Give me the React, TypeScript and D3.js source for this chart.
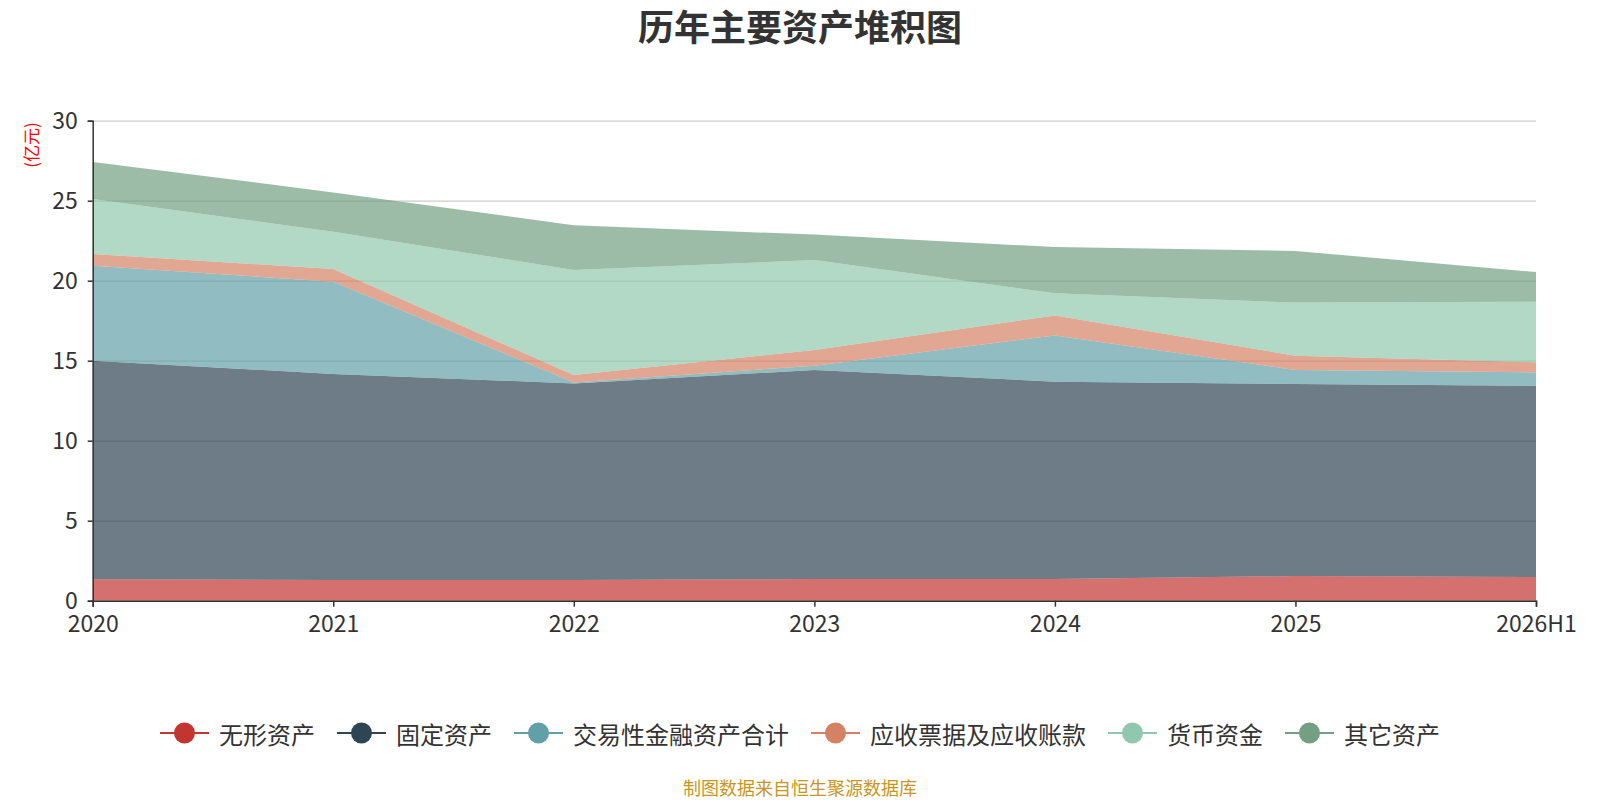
/**
 * 历年主要资产堆积图 — stacked area chart, D3 rendered.
 */
import { useEffect, useRef } from 'react';
import * as d3 from 'd3';

const W = 1600;
const H = 800;

const categories = ['2020', '2021', '2022', '2023', '2024', '2025', '2026H1'];

// 亿元
const intangible  = [1.34, 1.30, 1.29, 1.35, 1.35, 1.54, 1.48];
const fixedAssets = [13.66, 12.87, 12.29, 13.07, 12.34, 12.00, 11.95];
const trading     = [5.94, 5.77, 0.05, 0.27, 2.89, 0.88, 0.84];
const receivables = [0.73, 0.79, 0.47, 0.98, 1.25, 0.89, 0.63];
const cash        = [3.43, 2.33, 6.57, 5.62, 1.38, 3.32, 3.79];
const other       = [2.32, 2.46, 2.79, 1.59, 2.89, 3.23, 1.85];

const yTicks = [0, 5, 10, 15, 20, 25, 30];

const seriesNames = ['无形资产', '固定资产', '交易性金融资产合计', '应收票据及应收账款', '货币资金', '其它资产'];
const seriesValues = [intangible, fixedAssets, trading, receivables, cash, other];
const colors = ['#c23531', '#2f4554', '#61a0a8', '#d48265', '#91c7ae', '#749f83'];

const FONT = '"Noto Sans CJK SC", "Noto Sans", sans-serif';

type Row = { cat: string } & Record<string, number | string>;

export default function App() {
  const svgRef = useRef<SVGSVGElement>(null);

  useEffect(() => {
    if (!svgRef.current) return;
    const svg = d3.select(svgRef.current);
    svg.selectAll('*').remove();

    const M = { top: 120.7, right: 64, bottom: 199.3, left: 92.7 };
    const iW = W - M.left - M.right;
    const iH = H - M.top - M.bottom;

    svg.append('rect').attr('width', W).attr('height', H).attr('fill', '#fff');

    // ── Title ──────────────────────────────────────────────────────────────
    svg.append('text')
      .attr('x', W / 2).attr('y', 25)
      .attr('text-anchor', 'middle').attr('dominant-baseline', 'central')
      .attr('font-family', FONT).attr('font-weight', 'bold').attr('font-size', 36)
      .attr('fill', '#333')
      .text('历年主要资产堆积图');

    const root = svg.append('g').attr('transform', `translate(${M.left},${M.top})`);

    // ── Scales ─────────────────────────────────────────────────────────────
    const x = d3.scalePoint<string>().domain(categories).range([0, iW]);
    const y = d3.scaleLinear().domain([0, 30]).range([iH, 0]);

    // ── Grid ───────────────────────────────────────────────────────────────
    root.append('g')
      .call(d3.axisLeft(y).tickValues(yTicks).tickSize(-iW).tickFormat(() => ''))
      .call(g => g.select('.domain').remove())
      .call(g => g.selectAll('line').attr('stroke', '#ccc').attr('stroke-width', 1.2));

    // ── Stacked areas ──────────────────────────────────────────────────────
    const rows: Row[] = categories.map((cat, i) => {
      const r: Row = { cat } as Row;
      seriesNames.forEach((n, k) => { r[n] = seriesValues[k][i]; });
      return r;
    });
    const stacked = d3.stack<Row>().keys(seriesNames).value((d, k) => d[k] as number)(rows);

    const area = d3.area<d3.SeriesPoint<Row>>()
      .x(d => x(d.data.cat) as number)
      .y0(d => y(d[0]))
      .y1(d => y(d[1]));

    root.selectAll('path.area')
      .data(stacked)
      .join('path')
      .attr('class', 'area')
      .attr('fill', (_, i) => colors[i])
      .attr('fill-opacity', 0.7)
      .attr('d', area);

    // ── Y axis ─────────────────────────────────────────────────────────────
    root.append('g')
      .call(d3.axisLeft(y).tickValues(yTicks).tickSize(5).tickPadding(10))
      .call(g => g.select('.domain').attr('stroke', '#333').attr('stroke-width', 1.5))
      .call(g => g.selectAll('.tick line').attr('stroke', '#333').attr('stroke-width', 1.5))
      .call(g => g.selectAll('.tick text')
        .attr('fill', '#333').attr('font-size', 23).attr('font-family', FONT));

    // ── X axis ─────────────────────────────────────────────────────────────
    root.append('g')
      .attr('transform', `translate(0,${iH})`)
      .call(d3.axisBottom(x).tickSize(6).tickPadding(9))
      .call(g => g.select('.domain').attr('stroke', '#333').attr('stroke-width', 1.5))
      .call(g => g.selectAll('.tick line').attr('stroke', '#333').attr('stroke-width', 1.5))
      .call(g => g.selectAll('.tick text')
        .attr('fill', '#333').attr('font-size', 23).attr('font-family', FONT));

    // Unit label
    svg.append('text')
      .attr('transform', `translate(30,145) rotate(-90)`)
      .attr('text-anchor', 'middle').attr('dominant-baseline', 'central')
      .attr('fill', '#ff0000').attr('font-size', 17).attr('font-family', FONT)
      .text('(亿元)');

    // ── Legend ─────────────────────────────────────────────────────────────
    const fs = 24, mark = 49, gapIn = 10, gapOut = 22;
    const widths = seriesNames.map(n => mark + gapIn + n.length * fs);
    const total = d3.sum(widths) + gapOut * (widths.length - 1);
    let lx = W / 2 - total / 2;
    const ly = 733;
    seriesNames.forEach((n, i) => {
      const g = svg.append('g').attr('transform', `translate(${lx},${ly})`);
      g.append('line').attr('x1', 0).attr('x2', mark).attr('y1', 0).attr('y2', 0)
        .attr('stroke', colors[i]).attr('stroke-width', 2);
      g.append('circle').attr('cx', mark / 2).attr('cy', 0).attr('r', 10.5).attr('fill', colors[i]);
      g.append('text').attr('x', mark + gapIn).attr('y', 0)
        .attr('dominant-baseline', 'central')
        .attr('font-size', fs).attr('font-family', FONT).attr('fill', '#333')
        .text(n);
      lx += widths[i] + gapOut;
    });

    // Footer
    svg.append('text')
      .attr('x', W / 2).attr('y', 787)
      .attr('text-anchor', 'middle').attr('dominant-baseline', 'central')
      .attr('font-size', 18).attr('font-family', FONT).attr('fill', '#c8961e')
      .text('制图数据来自恒生聚源数据库');
  }, []);

  return (
    <div style={{ position: 'absolute', left: 0, top: 0 }}>
      <svg ref={svgRef} width={W} height={H} style={{ display: 'block' }} />
    </div>
  );
}
